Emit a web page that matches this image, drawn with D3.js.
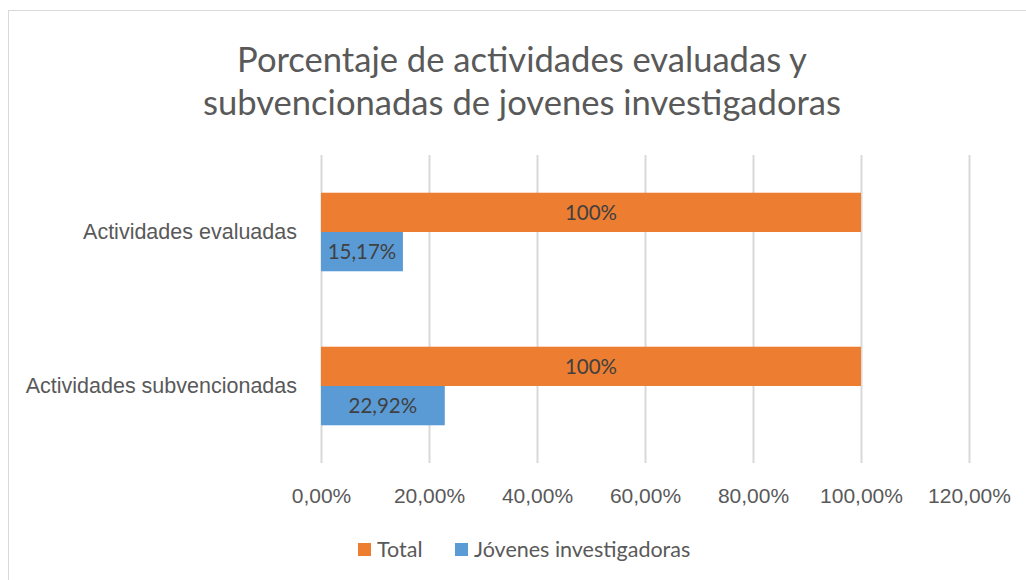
<!DOCTYPE html>
<html>
<head>
<meta charset="utf-8">
<script src="https://cdn.jsdelivr.net/npm/d3@7"></script>
<style>
  body { margin: 0; background: #fff; }
  svg { font-family: Lato, "Open Sans", sans-serif; }
</style>
</head>
<body>
<svg id="chart" width="1026" height="580"></svg>
<script>
// Data
var categories = ['Actividades evaluadas', 'Actividades subvencionadas'];
var seriesNames = ['Total', 'Jóvenes investigadoras'];
var seriesColors = ['#ED7D31', '#5B9BD5'];
var totalValues = [100, 100];
var jovenesValues = [15.17, 22.92];
var xTicks = [0, 20, 40, 60, 80, 100, 120];
var titleLines = ['Porcentaje de actividades evaluadas y', 'subvencionadas de jovenes investigadoras'];

var svg = d3.select('#chart');

// Chart frame
svg.append('rect')
   .attr('x', 8.5).attr('y', 10.5)
   .attr('width', 1040).attr('height', 600)
   .attr('fill', '#fff').attr('stroke', '#d9d9d9');

// Title
svg.append('g').attr('text-anchor', 'middle')
   .selectAll('text').data(titleLines).enter().append('text')
   .attr('x', 522).attr('y', (d, i) => 72 + i * 43)
   .attr('font-size', 34.6).attr('fill', '#595959')
   .text(d => d);

// Scales
var xScale = d3.scaleLinear().domain([0, 120]).range([321, 969]);
var yScale = d3.scaleBand().domain(categories).range([155, 463]);
var sub = d3.scaleBand().domain(seriesNames).range([0, yScale.bandwidth()]).paddingOuter(0.96).paddingInner(0);

// Grid
var grid = svg.append('g')
   .attr('transform', 'translate(0,' + 155 + ')')
   .call(d3.axisBottom(xScale).tickValues(xTicks).tickSize(308).tickFormat(''));
grid.select('.domain').remove();
grid.selectAll('.tick line').attr('stroke', '#d9d9d9').attr('stroke-width', 2);

// X axis labels
var xAxis = svg.append('g')
   .attr('transform', 'translate(0,' + 463 + ')')
   .call(d3.axisBottom(xScale).tickValues(xTicks).tickSize(0).tickPadding(25)
           .tickFormat(d => d.toFixed(2).replace('.', ',') + '%'));
xAxis.select('.domain').remove();
xAxis.selectAll('text').attr('font-size', 21).attr('fill', '#595959').attr('font-family', null);

// Y axis labels
var yAxis = svg.append('g')
   .attr('transform', 'translate(' + 321 + ',0)')
   .call(d3.axisLeft(yScale).tickSize(0).tickPadding(24));
yAxis.select('.domain').remove();
yAxis.selectAll('text').attr('font-size', 21.5).attr('fill', '#595959').attr('font-family', null);

// Bars
var rows = [];
categories.forEach(function(c, i) {
    rows.push({cat: c, series: seriesNames[0], value: totalValues[i], color: seriesColors[0], label: d3.format('.0f')(totalValues[i]) + '%'});
    rows.push({cat: c, series: seriesNames[1], value: jovenesValues[i], color: seriesColors[1], label: jovenesValues[i].toFixed(2).replace('.', ',') + '%'});
});

svg.append('g').selectAll('rect').data(rows).enter().append('rect')
   .attr('x', xScale(0))
   .attr('y', d => yScale(d.cat) + sub(d.series))
   .attr('width', d => xScale(d.value) - xScale(0))
   .attr('height', sub.bandwidth())
   .attr('fill', d => d.color);

// Data labels
svg.append('g').attr('text-anchor', 'middle')
   .selectAll('text').data(rows).enter().append('text')
   .attr('x', d => (xScale(0) + xScale(d.value)) / 2)
   .attr('y', d => yScale(d.cat) + sub(d.series) + sub.bandwidth() / 2)
   .attr('dy', '0.35em')
   .attr('font-size', 20.5).attr('fill', '#404040')
   .text(d => d.label);

// Legend
var legendX = [358, 455];
var legend = svg.append('g').selectAll('g').data(seriesNames).enter().append('g')
   .attr('transform', (d, i) => 'translate(' + legendX[i] + ',' + 549.5 + ')');
legend.append('rect').attr('x', 0).attr('y', -6.5).attr('width', 13).attr('height', 13)
   .attr('fill', (d, i) => seriesColors[i]);
legend.append('text').attr('x', 19).attr('dy', '0.35em')
   .attr('font-size', 21.5).attr('fill', '#595959')
   .text(d => d);
</script>
</body>
</html>
